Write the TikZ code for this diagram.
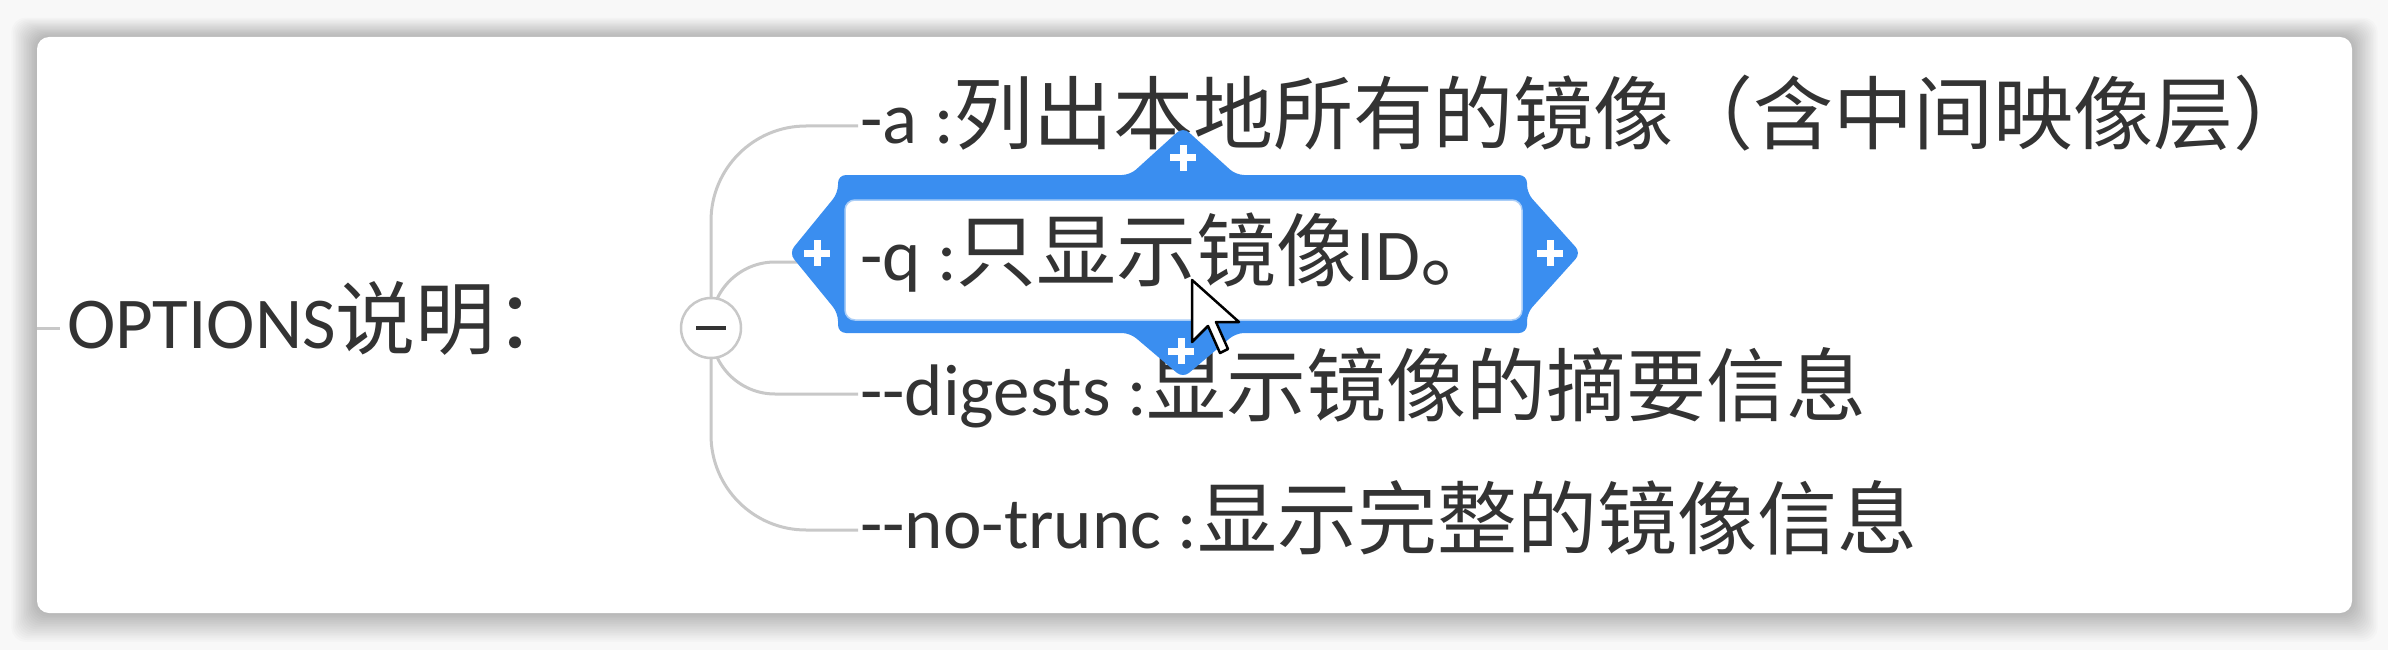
\documentclass[tikz,border=0pt]{standalone}
\usepackage{fontspec}
\setmainfont{Carlito}
\newfontfamily\cjkfont{Noto Sans CJK SC}
\newcommand\zh[1]{{\cjkfont\fontsize{80}{96}\selectfont #1}}
\definecolor{selblue}{HTML}{3A8EF0}
\definecolor{conncol}{HTML}{C8C8C8}
\definecolor{bgcol}{HTML}{F8F8F8}
\definecolor{txt}{HTML}{333333}
\definecolor{lightrim}{HTML}{A9CDF7}
\tikzset{
  conn/.style={draw=conncol, line width=3pt},
  lbl/.style={anchor=base west, inner sep=0pt, text=txt, font=\fontsize{73}{88}\selectfont},
  plussign/.style={draw=white, line width=7pt},
}
\begin{document}
\begin{tikzpicture}[x=1pt, y=-1pt]
\useasboundingbox (0,0) rectangle (2388,650);
\fill[bgcol] (0,0) rectangle (2388,650);
% shadow
\foreach \s in {1,...,16}
  \fill[black, opacity=0.014, rounded corners=14] ({37-\s*1.6},{37-\s*1.2}) rectangle ({2352+\s*1.6},{613+\s*1.8});
% card
\fill[white, rounded corners=12] (37,37) rectangle (2352,613);

% coordinates
\coordinate (hub) at (711,328);
\coordinate (rs) at (37,328);
\coordinate (re) at (60,328);
\coordinate (ea) at (858,126);
\coordinate (eq) at (858,262);
\coordinate (ed) at (858,394);
\coordinate (en) at (858,530);

% connectors
\draw[conn] (rs) -- (re);
\draw[conn, rounded corners=95] (hub) |- (ea);
\draw[conn, rounded corners=64] (hub) |- (eq);
\draw[conn, rounded corners=64] (hub) |- (ed);
\draw[conn, rounded corners=95] (hub) |- (en);

% collapse circle
\node[circle, draw=conncol, fill=white, line width=2.5pt, minimum size=60pt, inner sep=0pt] (circ) at (hub) {};
\draw[black!80, line width=4.5pt] ([xshift=-15pt]circ.center) -- ([xshift=15pt]circ.center);

% texts
\node[lbl] (root) at (67,348) {OPTIONS\zh{说明：}};
\node[lbl] (na) at (860,144) {-a :\zh{列出本地所有的镜像（含中间映像层）}};
\node[lbl] (nd) at (860,415) {-{}-digests :\zh{显示镜像的摘要信息}};
\node[lbl] (nn) at (860,548) {-{}-no-trunc :\zh{显示完整的镜像信息}};

% selection frame
\fill[selblue, rounded corners=8] (838,175) -- (1130,175) -- (1183,127) -- (1236,175) -- (1527,175) -- (1527,193) -- (1581,253) -- (1527,313) -- (1527,333) -- (1236,333) -- (1183,378) -- (1130,333) -- (838,333) -- (838,313) -- (789,253) -- (838,193) -- cycle;
\filldraw[fill=white, draw=lightrim, line width=1.5pt, rounded corners=10] (845,200) rectangle (1522,320);
\draw[plussign] (804,253) -- (830,253) (817,240) -- (817,266);
\draw[plussign] (1537,253) -- (1563,253) (1550,240) -- (1550,266);
\draw[plussign] (1170,158) -- (1196,158) (1183,145) -- (1183,171);
\draw[plussign] (1168,351) -- (1194,351) (1181,338) -- (1181,364);

\node[lbl] (nq) at (860,280) {-q :\zh{只显示镜像}ID\zh{。}};

% mouse cursor
\filldraw[fill=white, draw=black, line width=2.5pt, line join=round] (1192,280) -- ++(0,62) -- ++(16,-16) -- ++(12,27) -- ++(8,-4) -- ++(-12,-27) -- ++(23,0) -- cycle;
\end{tikzpicture}
\end{document}
